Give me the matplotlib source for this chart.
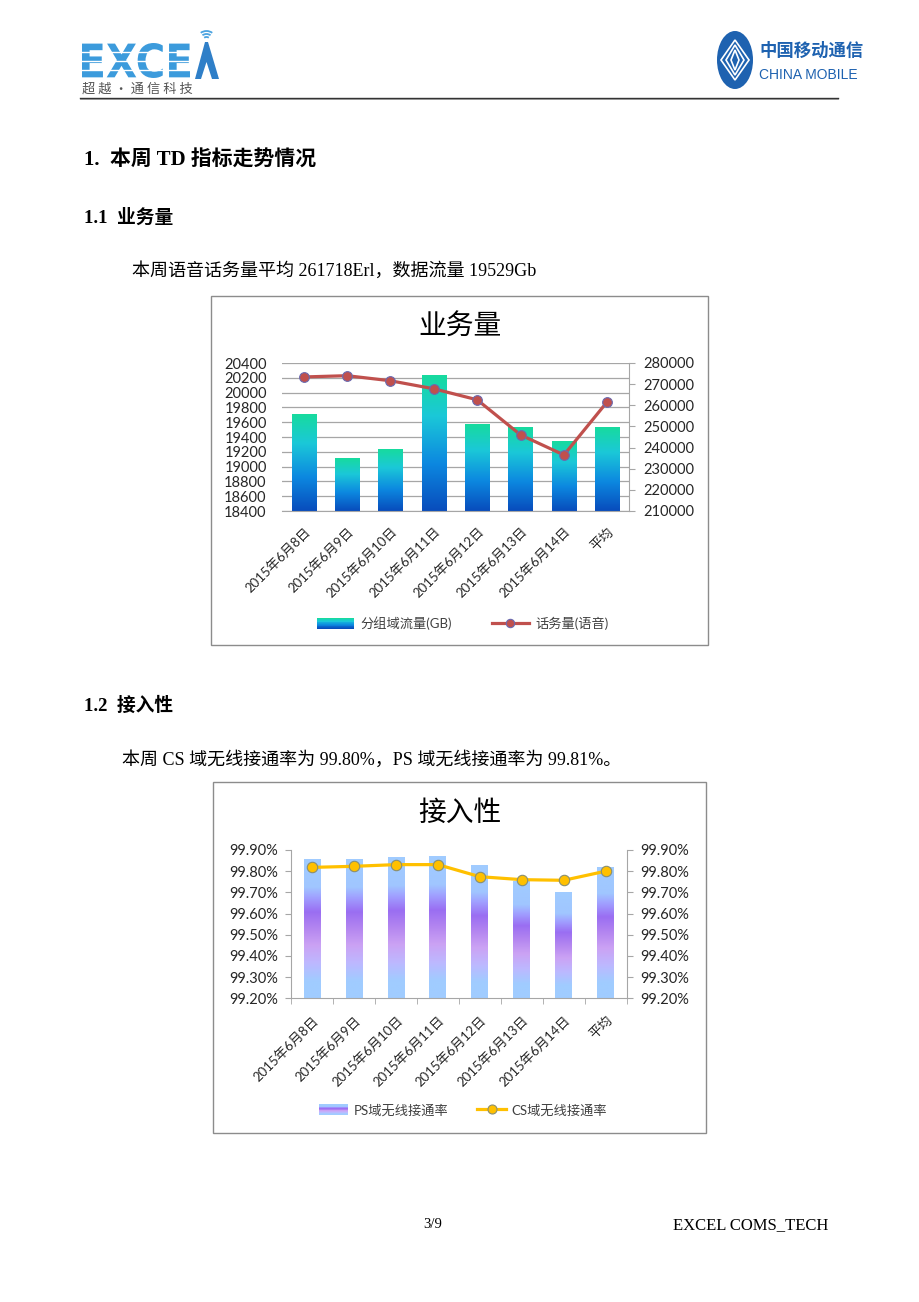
import numpy as np
import matplotlib
matplotlib.use("Agg")
import matplotlib.pyplot as plt
from matplotlib.colors import LinearSegmentedColormap
from matplotlib.patches import Rectangle, Ellipse, Polygon, PathPatch, Arc
from matplotlib.lines import Line2D
from matplotlib.legend_handler import HandlerBase
from matplotlib.textpath import TextPath
from matplotlib.font_manager import FontProperties
from matplotlib.path import Path
from matplotlib.ticker import FuncFormatter, FixedLocator

# ---------------- data ----------------
dates = ['2015年6月8日', '2015年6月9日', '2015年6月10日', '2015年6月11日',
         '2015年6月12日', '2015年6月13日', '2015年6月14日', '平均']
traffic_gb = [19710, 19115, 19230, 20228, 19565, 19524, 19344, 19529]
voice_erl = [273400, 274000, 271600, 267800, 262600, 246000, 236500, 261718]
ps_rate = [99.853, 99.852, 99.864, 99.869, 99.826, 99.750, 99.699, 99.814]
cs_rate = [99.818, 99.823, 99.831, 99.831, 99.774, 99.760, 99.757, 99.800]

left_ticks1 = list(range(18400, 20401, 200))
right_ticks1 = list(range(210000, 280001, 10000))
rate_ticks = [99.2, 99.3, 99.4, 99.5, 99.6, 99.7, 99.8, 99.9]

W, H = 920, 1302
fig = plt.figure(figsize=(W / 100, H / 100), dpi=100)
fig.patch.set_facecolor('white')

CJK = 'Noto Sans CJK SC'
SERIF = ['Liberation Serif', CJK]
CHART = ['Lato', CJK]


def fx(x):
    return x / W


def fy(y):
    return 1 - y / H


# ---------------- header ----------------
def text_path_patch(s, box, color, family='DejaVu Sans', weight='bold'):
    tp = TextPath((0, 0), s, size=1, prop=FontProperties(family=family, weight=weight))
    v = tp.vertices.copy()
    ext = tp.get_extents()
    x0, y0, x1, y1 = box  # pixel, y from top (y0 top, y1 bottom)
    sx = (x1 - x0) / ext.width
    sy = (y1 - y0) / ext.height
    px = x0 + (v[:, 0] - ext.x0) * sx
    py = y1 - (v[:, 1] - ext.y0) * sy
    nv = np.column_stack([px / W, 1 - py / H])
    p = Path(nv, tp.codes)
    patch = PathPatch(p, facecolor=color, edgecolor='none', transform=fig.transFigure)
    fig.add_artist(patch)


text_path_patch("EXCE", (82, 43, 190, 78), '#3C9BDC')
for yy in (52, 61, 70):
    fig.add_artist(Line2D([fx(82), fx(191)], [fy(yy), fy(yy)], color='white', lw=1.0,
                          transform=fig.transFigure))
fig.add_artist(Polygon([(fx(195), fy(79)), (fx(205), fy(42)), (fx(208), fy(42)), (fx(219), fy(79))],
                       closed=True, facecolor='#2F7FC8', edgecolor='none', transform=fig.transFigure))
fig.add_artist(Polygon([(fx(201), fy(79)), (fx(206.5), fy(62)), (fx(212), fy(79))],
                       closed=True, facecolor='white', edgecolor='none', transform=fig.transFigure))
for r in (4, 7, 10):
    fig.add_artist(Arc((fx(206.5), fy(41)), r * 2 / W, r * 2 / H, theta1=45, theta2=135,
                       color='#4BA3E0', lw=1.3, transform=fig.transFigure))
fig.text(fx(82), fy(89), "超 越 · 通 信 科 技", family=CJK, fontsize=9.5, color='#555555',
         va='center', ha='left')

fig.add_artist(Ellipse((fx(735), fy(60)), 36 / W, 58 / H, facecolor='#1E62B0', edgecolor='none',
                       transform=fig.transFigure))
for k in range(3):
    off = k * 5
    fig.add_artist(Polygon([(fx(735), fy(40 + off)), (fx(749 - off), fy(60)), (fx(735), fy(80 - off)),
                            (fx(721 + off), fy(60))], closed=True, facecolor='none',
                           edgecolor='white', lw=1.2, transform=fig.transFigure))
fig.text(fx(759), fy(51), "中国移动通信", family=CJK, fontsize=12.5, color='#1E62B0',
         va='center', ha='left', fontweight='bold')
fig.text(fx(759), fy(75), "CHINA MOBILE", family='Liberation Sans', fontsize=10, color='#1E62B0',
         va='center', ha='left')
fig.add_artist(Line2D([fx(80), fx(838)], [fy(97.5), fy(97.5)], color='#333333', lw=1.0,
                      transform=fig.transFigure))
fig.add_artist(Line2D([fx(80), fx(838)], [fy(99), fy(99)], color='#888888', lw=0.6,
                      transform=fig.transFigure))

# ---------------- body text ----------------
fig.text(fx(84), fy(160), "1.  本周 TD 指标走势情况", family=SERIF, fontsize=15, fontweight='bold',
         va='center', ha='left', color='black')
fig.text(fx(84), fy(218), "1.1  业务量", family=SERIF, fontsize=13.5, fontweight='bold',
         va='center', ha='left', color='black')
fig.text(fx(132), fy(271), "本周语音话务量平均 261718Erl，数据流量 19529Gb", family=SERIF,
         fontsize=13, va='center', ha='left', color='black')
fig.text(fx(84), fy(706), "1.2  接入性", family=SERIF, fontsize=13.5, fontweight='bold',
         va='center', ha='left', color='black')
fig.text(fx(122), fy(760), "本周 CS 域无线接通率为 99.80%，PS 域无线接通率为 99.81%。", family=SERIF,
         fontsize=13, va='center', ha='left', color='black')
fig.text(fx(433), fy(1225), "3/9", family='Liberation Serif', fontsize=10.5, va='center',
         ha='center', color='black')
fig.text(fx(828), fy(1225), "EXCEL COMS_TECH", family='Liberation Serif', fontsize=12, va='center',
         ha='right', color='black')

fig.add_artist(Rectangle((fx(211), fy(645)), 497 / W, 349 / H, facecolor='none', edgecolor='#8C8C8C',
                         lw=1.0, transform=fig.transFigure))
fig.add_artist(Rectangle((fx(213), fy(1133)), 493 / W, 351 / H, facecolor='none', edgecolor='#8C8C8C',
                         lw=1.0, transform=fig.transFigure))

cmap1 = LinearSegmentedColormap.from_list('g1', [(0, '#17DB9E'), (0.3, '#1BC8D8'),
                                                 (0.65, '#0C88E0'), (1.0, '#084CBC')])
cmap2 = LinearSegmentedColormap.from_list('g2', [(0, '#A0CCFF'), (0.2, '#A0C6FF'), (0.28, '#A09EFF'),
                                                 (0.38, '#9A6EF2'), (0.5, '#B486F0'),
                                                 (0.62, '#CBA2F4'), (0.75, '#BDB8FF'),
                                                 (0.88, '#A0CCFF'), (1.0, '#A0CCFF')])


def gradient_bars(ax, bars, cmap):
    grad = np.linspace(0, 1, 256).reshape(-1, 1)
    ymin = ax.get_ylim()[0]
    for b in bars:
        x, y = b.get_x(), b.get_y()
        w, h = b.get_width(), b.get_height()
        y0 = max(y, ymin)
        ax.imshow(grad, cmap=cmap, extent=(x, x + w, y0, y + h), origin='upper',
                  aspect='auto', zorder=2, interpolation='bilinear')
        b.set_facecolor('none')


class GradHandler(HandlerBase):
    def __init__(self, cmap, n=14):
        super().__init__()
        self.cmap = cmap
        self.n = n

    def create_artists(self, legend, orig_handle, xdescent, ydescent, width, height, fontsize, trans):
        arts = []
        n = self.n
        for i in range(n):
            r = Rectangle((-xdescent, -ydescent + height * (1 - (i + 1) / n)), width, height / n,
                          facecolor=self.cmap(i / (n - 1)), edgecolor='none', transform=trans)
            arts.append(r)
        return arts


class GradProxy:
    pass


# ---------------- chart 1 ----------------
x = np.arange(len(dates))
ax1 = fig.add_axes([fx(282), fy(511), 347 / W, 148 / H])
ax1.set_ylim(18400, 20400)
bars1 = ax1.bar(x, traffic_gb, width=0.56, zorder=2)
ax1.set_ylim(18400, 20400)
gradient_bars(ax1, bars1, cmap1)
ax1.set_ylim(18400, 20400)
ax1.set_xlim(-0.5, len(dates) - 0.5)
ax1.yaxis.set_major_locator(FixedLocator(left_ticks1))
ax1.grid(axis='y', color='#A6A6A6', lw=0.9)
ax1.set_axisbelow(True)
for s in ('left', 'top', 'right'):
    ax1.spines[s].set_visible(False)
ax1.spines['bottom'].set_color('#A6A6A6')
ax1.tick_params(axis='y', length=0, pad=11, labelsize=10.5, labelcolor='#262626')
ax1.set_xticks(x)
ax1.set_xticklabels(dates, rotation=45, ha='right', rotation_mode='anchor', family=CHART,
                    fontsize=9.5, color='#262626')
ax1.tick_params(axis='x', length=0, pad=10)
for lab in ax1.get_yticklabels():
    lab.set_family(CHART)
ax1.set_facecolor('none')

ax1b = ax1.twinx()
ax1b.plot(x, voice_erl, color='#C0504D', lw=2.3, marker='o', markersize=7,
          markerfacecolor='#C0504D', markeredgecolor='#6A6AB0', markeredgewidth=0.8, zorder=3)
ax1b.set_ylim(210000, 280000)
ax1b.yaxis.set_major_locator(FixedLocator(right_ticks1))
for s in ('left', 'top', 'bottom'):
    ax1b.spines[s].set_visible(False)
ax1b.spines['right'].set_color('#A6A6A6')
ax1b.tick_params(axis='y', length=4, color='#A6A6A6', direction='out', pad=6, labelsize=10.5,
                 labelcolor='#262626')
for lab in ax1b.get_yticklabels():
    lab.set_family(CHART)

fig.text(fx(460), fy(327), "业务量", family=CJK, fontsize=20, ha='center', va='center', color='black')

h1 = GradProxy()
h2 = Line2D([], [], color='#C0504D', lw=2.3, marker='o', markersize=6, markerfacecolor='#C0504D',
            markeredgecolor='#6A6AB0', markeredgewidth=0.8)
fig.legend([h1, h2], ['分组域流量(GB)', '话务量(语音)'], loc='center', bbox_to_anchor=(fx(463), fy(623)),
           ncol=2, frameon=False, handler_map={GradProxy: GradHandler(cmap1)},
           prop={'family': CHART, 'size': 9.5}, labelcolor='#404040', handlelength=2.8,
           handleheight=0.9, columnspacing=3.0, handletextpad=0.5, numpoints=1)

# ---------------- chart 2 ----------------
ax2 = fig.add_axes([fx(291), fy(998.3), 335.7 / W, 148.3 / H])
ax2.set_ylim(99.2, 99.9)
bars2 = ax2.bar(x, ps_rate, width=0.40, zorder=2)
ax2.set_ylim(99.2, 99.9)
gradient_bars(ax2, bars2, cmap2)
ax2.set_ylim(99.2, 99.9)
ax2.set_xlim(-0.5, len(dates) - 0.5)
ax2.yaxis.set_major_locator(FixedLocator(rate_ticks))
pct = FuncFormatter(lambda v, p: f"{v:.2f}%")
ax2.yaxis.set_major_formatter(pct)
for s in ('top', 'right'):
    ax2.spines[s].set_visible(False)
ax2.spines['left'].set_color('#A6A6A6')
ax2.spines['bottom'].set_color('#A6A6A6')
ax2.tick_params(axis='y', length=4, color='#A6A6A6', direction='out', pad=5, labelsize=10.5,
                labelcolor='#262626')
ax2.set_xticks(x)
ax2.set_xticklabels(dates, rotation=45, ha='right', rotation_mode='anchor', family=CHART,
                    fontsize=9.5, color='#262626')
ax2.set_xticks(np.arange(-0.5, len(dates) + 0.5, 1), minor=True)
ax2.tick_params(axis='x', which='major', length=0, pad=11)
ax2.tick_params(axis='x', which='minor', length=4, color='#A6A6A6', direction='out')
for lab in ax2.get_yticklabels():
    lab.set_family(CHART)
ax2.set_facecolor('none')

ax2b = ax2.twinx()
ax2b.plot(x, cs_rate, color='#FFC000', lw=2.3, marker='o', markersize=7.5,
          markerfacecolor='#FFC000', markeredgecolor='#8A8F70', markeredgewidth=0.8, zorder=3)
ax2b.set_ylim(99.2, 99.9)
ax2b.yaxis.set_major_locator(FixedLocator(rate_ticks))
ax2b.yaxis.set_major_formatter(pct)
for s in ('left', 'top', 'bottom'):
    ax2b.spines[s].set_visible(False)
ax2b.spines['right'].set_color('#A6A6A6')
ax2b.tick_params(axis='y', length=4, color='#A6A6A6', direction='out', pad=6, labelsize=10.5,
                 labelcolor='#262626')
for lab in ax2b.get_yticklabels():
    lab.set_family(CHART)

fig.text(fx(460), fy(813), "接入性", family=CJK, fontsize=20, ha='center', va='center', color='black')

h3 = GradProxy()
h4 = Line2D([], [], color='#FFC000', lw=2.3, marker='o', markersize=6.5, markerfacecolor='#FFC000',
            markeredgecolor='#8A8F70', markeredgewidth=0.8)
fig.legend([h3, h4], ['PS域无线接通率', 'CS域无线接通率'], loc='center', bbox_to_anchor=(fx(463), fy(1110)),
           ncol=2, frameon=False, handler_map={GradProxy: GradHandler(cmap2)},
           prop={'family': CHART, 'size': 9.5}, labelcolor='#404040', handlelength=2.2,
           handleheight=0.9, columnspacing=2.2, handletextpad=0.4, numpoints=1)

fig.savefig('out.png', dpi=100, facecolor='white')
